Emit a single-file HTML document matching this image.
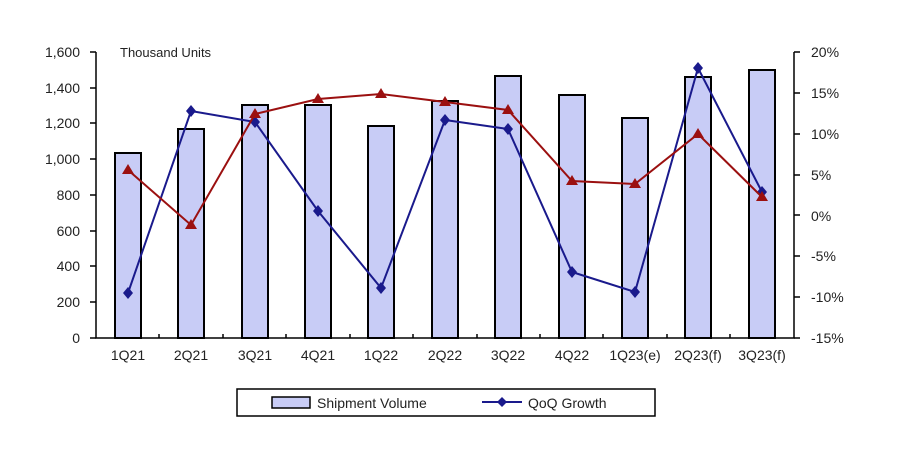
<!DOCTYPE html>
<html><head><style>body{margin:0;background:#fff}svg{display:block}text{font-family:"Liberation Sans",sans-serif;fill:#222}</style></head>
<body>
<svg width="900" height="458" viewBox="0 0 900 458">
<g font-size="14">
<g text-anchor="end">
<text x="80" y="57">1,600</text><text x="80" y="93">1,400</text><text x="80" y="128">1,200</text><text x="80" y="164">1,000</text><text x="80" y="200">800</text><text x="80" y="236">600</text><text x="80" y="271">400</text><text x="80" y="307">200</text><text x="80" y="343">0</text>
</g>
<g text-anchor="start">
<text x="811" y="57">20%</text><text x="811" y="98">15%</text><text x="811" y="139">10%</text><text x="811" y="180">5%</text><text x="811" y="221">0%</text><text x="811" y="261">-5%</text><text x="811" y="302">-10%</text><text x="811" y="343">-15%</text>
</g>
<text x="120" y="57" font-size="13">Thousand Units</text>
<g text-anchor="middle">
<text x="128" y="360">1Q21</text><text x="191" y="360">2Q21</text><text x="255" y="360">3Q21</text><text x="318" y="360">4Q21</text><text x="381" y="360">1Q22</text><text x="445" y="360">2Q22</text><text x="508" y="360">3Q22</text><text x="572" y="360">4Q22</text><text x="635" y="360">1Q23(e)</text><text x="698" y="360">2Q23(f)</text><text x="762" y="360">3Q23(f)</text>
</g>
</g>
<g fill="#c8ccf6" stroke="#000" stroke-width="2">
<rect x="115" y="153" width="26" height="185"/>
<rect x="178" y="129" width="26" height="209"/>
<rect x="242" y="105" width="26" height="233"/>
<rect x="305" y="105" width="26" height="233"/>
<rect x="368" y="126" width="26" height="212"/>
<rect x="432" y="101" width="26" height="237"/>
<rect x="495" y="76" width="26" height="262"/>
<rect x="559" y="95" width="26" height="243"/>
<rect x="622" y="118" width="26" height="220"/>
<rect x="685" y="77" width="26" height="261"/>
<rect x="749" y="70" width="26" height="268"/>
</g>
<g stroke="#000" stroke-width="1.5" fill="none">
<path d="M96 52V338H794V52"/>
<path d="M90 52H96M90 88H96M90 123H96M90 159H96M90 195H96M90 231H96M90 266H96M90 302H96M90 338H96"/>
<path d="M794 52H800M794 93H800M794 134H800M794 175H800M794 215H800M794 256H800M794 297H800M794 338H800"/>
<path d="M159 338v-4M223 338v-4M286 338v-4M350 338v-4M413 338v-4M477 338v-4M540 338v-4M603 338v-4M667 338v-4M730 338v-4"/>
</g>
<polyline fill="none" stroke="#1a1a8c" stroke-width="2" points="128,293 191,111 255,122 318,211 381,288 445,120 508,129 572,272 635,292 698,68 762,192"/>
<g fill="#1a1a8c">
<path d="M128 287l5 6-5 6-5-6z"/><path d="M191 105l5 6-5 6-5-6z"/><path d="M255 116l5 6-5 6-5-6z"/><path d="M318 205l5 6-5 6-5-6z"/><path d="M381 282l5 6-5 6-5-6z"/><path d="M445 114l5 6-5 6-5-6z"/><path d="M508 123l5 6-5 6-5-6z"/><path d="M572 266l5 6-5 6-5-6z"/><path d="M635 286l5 6-5 6-5-6z"/><path d="M698 62l5 6-5 6-5-6z"/><path d="M762 186l5 6-5 6-5-6z"/>
</g>
<polyline fill="none" stroke="#9b1010" stroke-width="2" points="128,170 191,225 255,114 318,99 381,94 445,102 508,110 572,181 635,184 698,134 762,197"/>
<g fill="#9b1010">
<path d="M128 164l6 10h-12z"/><path d="M191 219l6 10h-12z"/><path d="M255 108l6 10h-12z"/><path d="M318 93l6 10h-12z"/><path d="M381 88l6 10h-12z"/><path d="M445 96l6 10h-12z"/><path d="M508 104l6 10h-12z"/><path d="M572 175l6 10h-12z"/><path d="M635 178l6 10h-12z"/><path d="M698 128l6 10h-12z"/><path d="M762 191l6 10h-12z"/>
</g>
<rect x="237" y="389" width="418" height="27" fill="#fff" stroke="#000" stroke-width="1.5"/>
<rect x="272" y="397" width="38" height="11" fill="#c8ccf6" stroke="#000" stroke-width="1.5"/>
<text x="317" y="408" font-size="14">Shipment Volume</text>
<line x1="482" y1="402" x2="522" y2="402" stroke="#1a1a8c" stroke-width="2"/>
<path d="M502 397l5 5-5 5-5-5z" fill="#1a1a8c"/>
<text x="528" y="408" font-size="14">QoQ Growth</text>
</svg>
</body></html>
